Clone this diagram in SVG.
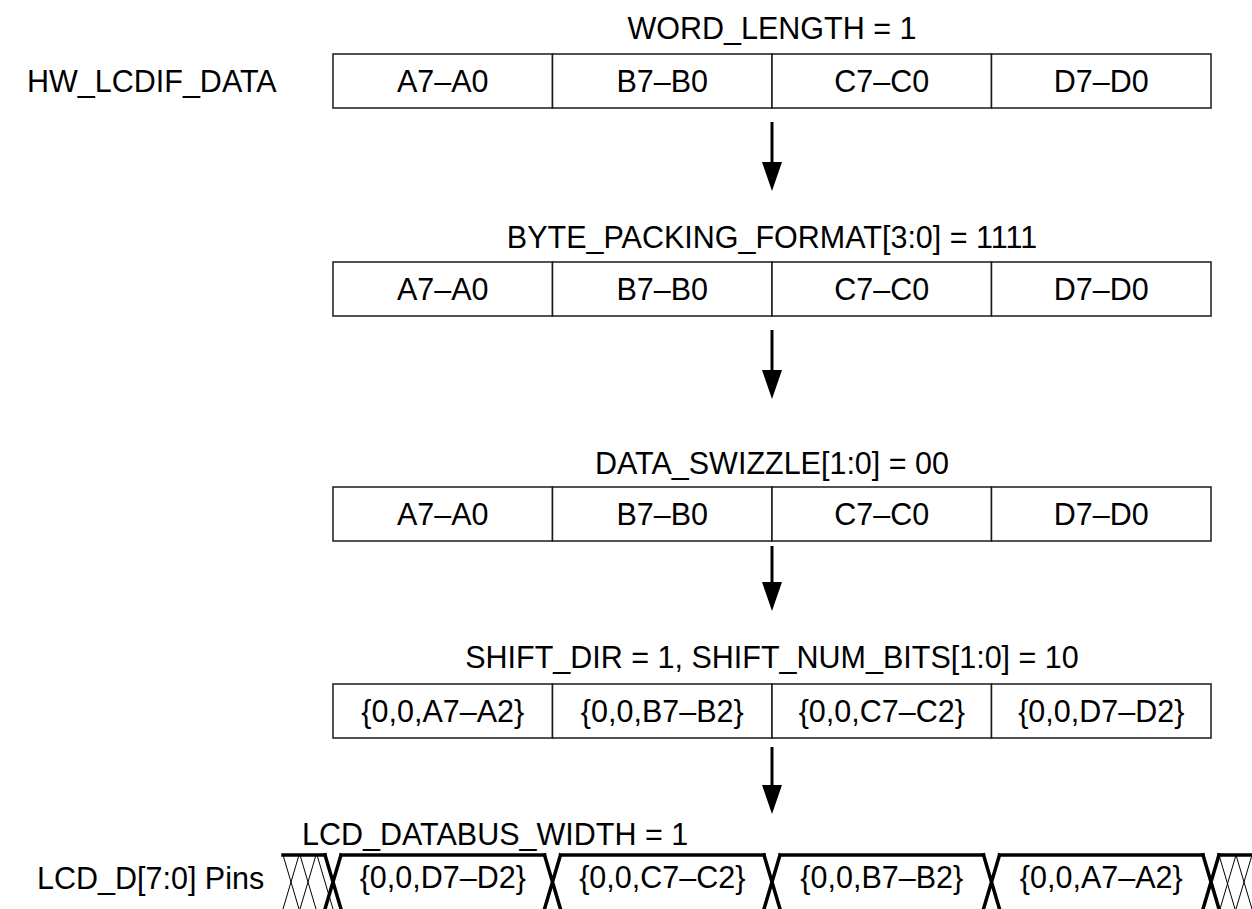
<svg xmlns="http://www.w3.org/2000/svg" width="1252" height="909" viewBox="0 0 1252 909">
<style>
text{font-family:"Liberation Sans",Arial,Helvetica,sans-serif;font-size:30.5px;fill:#000}
.c{text-anchor:middle}
.cell{fill:#fff;stroke:#1a1a1a;stroke-width:1.5}
.arr{stroke:#000;stroke-width:3;fill:none}
.head{fill:#000}
.wave{stroke:#000;stroke-width:3.5;fill:none;stroke-linecap:square}
.hatch{stroke:#000;stroke-width:1;fill:none}
</style>
<defs>
<g id="row">
<rect class="cell" x="333" y="0" width="219.5" height="54"/>
<rect class="cell" x="552.5" y="0" width="219.5" height="54"/>
<rect class="cell" x="772" y="0" width="219.5" height="54"/>
<rect class="cell" x="991.5" y="0" width="219.5" height="54"/>
</g>
</defs>
<rect width="1252" height="909" fill="#fff"/>

<g id="hw_lcdif_data">
<text x="27" y="92">HW_LCDIF_DATA</text>
<text class="c" x="772" y="39">WORD_LENGTH = 1</text>
<use href="#row" y="54"/>
<text class="c" x="442.75" y="92">A7–A0</text>
<text class="c" x="662.25" y="92">B7–B0</text>
<text class="c" x="881.75" y="92">C7–C0</text>
<text class="c" x="1101.25" y="92">D7–D0</text>
</g>

<g id="byte_packing">
<text class="c" x="772" y="248">BYTE_PACKING_FORMAT[3:0] = 1111</text>
<use href="#row" y="262"/>
<text class="c" x="442.75" y="300">A7–A0</text>
<text class="c" x="662.25" y="300">B7–B0</text>
<text class="c" x="881.75" y="300">C7–C0</text>
<text class="c" x="1101.25" y="300">D7–D0</text>
</g>

<g id="data_swizzle">
<text class="c" x="772" y="474">DATA_SWIZZLE[1:0] = 00</text>
<use href="#row" y="487"/>
<text class="c" x="442.75" y="525">A7–A0</text>
<text class="c" x="662.25" y="525">B7–B0</text>
<text class="c" x="881.75" y="525">C7–C0</text>
<text class="c" x="1101.25" y="525">D7–D0</text>
</g>

<g id="shift">
<text class="c" x="772" y="668">SHIFT_DIR = 1, SHIFT_NUM_BITS[1:0] = 10</text>
<use href="#row" y="684"/>
<text class="c" x="442.75" y="722">{0,0,A7–A2}</text>
<text class="c" x="662.25" y="722">{0,0,B7–B2}</text>
<text class="c" x="881.75" y="722">{0,0,C7–C2}</text>
<text class="c" x="1101.25" y="722">{0,0,D7–D2}</text>
</g>

<g id="lcd_pins">
<text x="37" y="889">LCD_D[7:0] Pins</text>
<text x="302" y="845">LCD_DATABUS_WIDTH = 1</text>
<path class="hatch" d="M283,855 L299,909 M300,855 L316,909 M317,855 L333,909 M299,855 L283,909 M316,855 L300,909"/>
<path class="hatch" d="M1219,855 L1235,909 M1236,855 L1252,909 M1236,855 L1220,909 M1252,855 L1236,909"/>
<path class="wave" d="M283,855 H325 M1219,855 H1252"/>
<path class="wave" d="M325,855 L341,909 M341,855 L325,909 M341,855 H544.5"/>
<path class="wave" d="M544.5,855 L560.5,909 M560.5,855 L544.5,909 M560.5,855 H764"/>
<path class="wave" d="M764,855 L780,909 M780,855 L764,909 M780,855 H983.5"/>
<path class="wave" d="M983.5,855 L999.5,909 M999.5,855 L983.5,909 M999.5,855 H1203"/>
<path class="wave" d="M1203,855 L1219,909 M1219,855 L1203,909"/>
<text class="c" x="442.75" y="888">{0,0,D7–D2}</text>
<text class="c" x="662.25" y="888">{0,0,C7–C2}</text>
<text class="c" x="881.75" y="888">{0,0,B7–B2}</text>
<text class="c" x="1101.25" y="888">{0,0,A7–A2}</text>
</g>

<g id="connectors">
<line class="arr" x1="772" y1="122" x2="772" y2="164"/>
<polygon class="head" points="762,162 782,162 772,191"/>
<line class="arr" x1="772" y1="330" x2="772" y2="372"/>
<polygon class="head" points="762,370 782,370 772,399"/>
<line class="arr" x1="772" y1="546" x2="772" y2="584"/>
<polygon class="head" points="762,582 782,582 772,611"/>
<line class="arr" x1="772" y1="747" x2="772" y2="787"/>
<polygon class="head" points="762,785 782,785 772,814"/>
</g>
</svg>
